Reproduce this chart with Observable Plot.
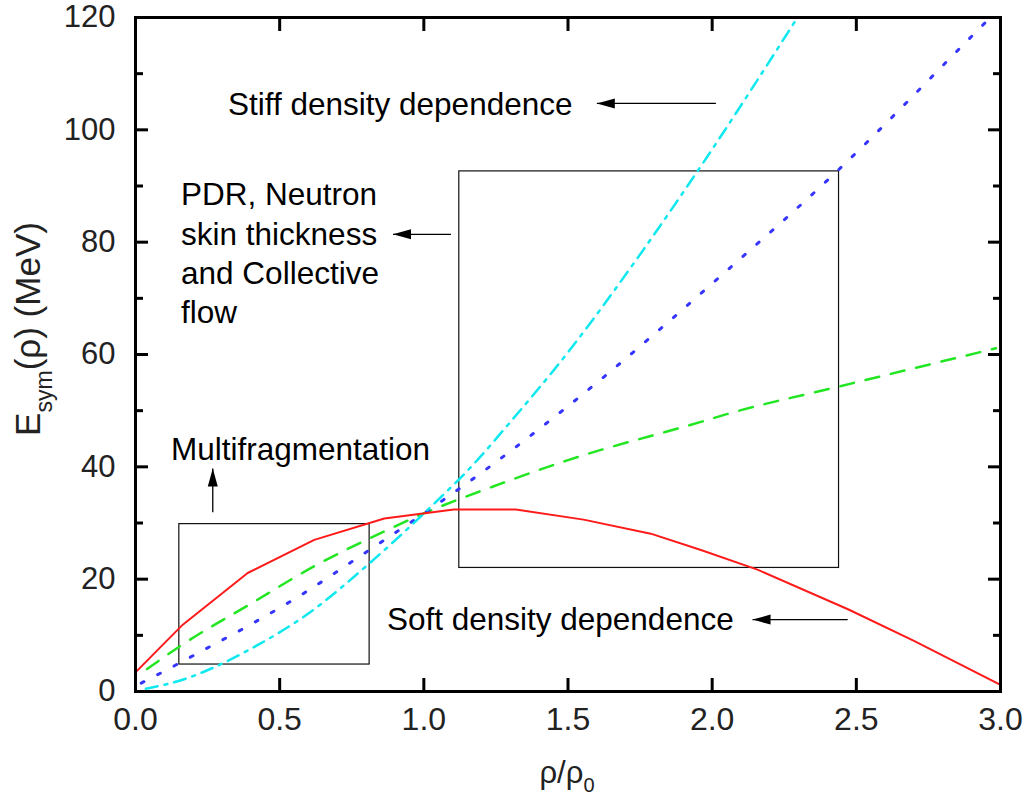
<!DOCTYPE html>
<html><head><meta charset="utf-8">
<script src="https://cdn.jsdelivr.net/npm/d3@7"></script>
<script src="https://cdn.jsdelivr.net/npm/@observablehq/plot@0.6"></script>
<style>
body{margin:0;background:#fff}
#chart svg{font-family:"Liberation Sans",Arial,sans-serif;background:#fff}
</style>
</head><body><div id="chart"></div>
<script>
// ticks
const xTicks = [0, 0.5, 1, 1.5, 2, 2.5, 3];
const yTicks = [0, 20, 40, 60, 80, 100, 120];
const yMinor = [10, 30, 50, 70, 90, 110];

// soft density dependence (red, solid)
const softX = [0, 0.164, 0.389, 0.62, 0.863, 1.104, 1.319, 1.554, 1.787, 1.961, 2.157, 2.473, 2.7, 3.0];
const softY = [3.4, 11.9, 21.1, 27.0, 30.8, 32.4, 32.4, 30.6, 28.1, 25.2, 21.7, 14.6, 9.0, 1.2];
// green dashed
const greenX = [0.04, 0.164, 0.389, 0.62, 0.863, 1.0, 1.267, 1.5, 1.961, 2.059, 2.44, 2.984];
const greenY = [4.0, 8.4, 15.3, 22.3, 28.5, 31.7, 37.0, 41.2, 48.0, 49.5, 54.3, 61.1];
// blue dotted
const blueX = [0.02, 0.071, 0.233, 0.395, 0.562, 0.817, 1.0, 1.204, 1.5, 2.059, 2.418, 2.93, 3.0];
const blueY = [1.5, 2.85, 7.3, 11.8, 16.8, 25.4, 31.7, 39.1, 50.8, 75.3, 91.9, 118.2, 121.8];
// cyan dash-dot (stiff)
const cyanX = [0.036, 0.158, 0.285, 0.389, 0.597, 0.822, 1.0, 1.198, 1.267, 1.5, 1.747, 1.967, 2.296];
const cyanY = [0.5, 2.0, 4.6, 7.3, 13.8, 23.3, 31.7, 41.9, 46.0, 60.4, 77.6, 94.0, 120.0];

// boxes
const boxes = [
  {x1: 0.152, x2: 0.812, y1: 4.8, y2: 29.8},
  {x1: 1.123, x2: 2.44, y1: 22.0, y2: 92.6}
];
// annotations
const notes = [
  {label: "Stiff density dependence", x: 0.321, y: 104.8},
  {label: "PDR, Neutron\nskin thickness\nand Collective\nflow", x: 0.158, y: 78.3},
  {label: "Multifragmentation", x: 0.123, y: 43.5},
  {label: "Soft density dependence", x: 0.872, y: 13.2}
];
const arrows = [
  {x1: 2.013, y1: 104.7, x2: 1.600, y2: 104.7, rot: -90},
  {x1: 1.094, y1: 81.4, x2: 0.893, y2: 81.4, rot: -90},
  {x1: 0.268, y1: 31.9, x2: 0.268, y2: 39.7, rot: 0},
  {x1: 2.47, y1: 12.8, x2: 2.14, y2: 12.8, rot: -90}
];

const pts = (xs, ys) => xs.map((x, i) => ({x, y: ys[i]}));
const headShape = {
  draw(ctx) {
    ctx.moveTo(0, 0);
    ctx.lineTo(-5, 18);
    ctx.lineTo(5, 18);
    ctx.closePath();
  }
};

const chart = Plot.plot({
  width: 1029,
  height: 803,
  marginLeft: 135,
  marginRight: 29,
  marginTop: 17,
  marginBottom: 112,
  style: {fontFamily: "Liberation Sans, Arial, sans-serif", background: "#fff", color: "#000"},
  x: {domain: [0, 3]},
  y: {domain: [0, 120]},
  marks: [
    Plot.rect(boxes, {x1: "x1", x2: "x2", y1: "y1", y2: "y2", fill: "none", stroke: "#111", strokeWidth: 1.2}),
    Plot.line(pts(greenX, greenY), {x: "x", y: "y", curve: "monotone-x", stroke: "#22e622", strokeWidth: 2.5, strokeDasharray: "14,12", clip: true}),
    Plot.line(pts(blueX, blueY), {x: "x", y: "y", curve: "monotone-x", stroke: "#3535ff", strokeWidth: 3, strokeDasharray: "3,15.5", clip: true}),
    Plot.line(pts(cyanX, cyanY), {x: "x", y: "y", curve: "monotone-x", stroke: "#10e8f0", strokeWidth: 2.5, strokeDasharray: "12,7,3,7", clip: true}),
    Plot.line(pts(softX, softY), {x: "x", y: "y", curve: "linear", stroke: "#ff1a1a", strokeWidth: 2, clip: true}),
    Plot.link(arrows, {x1: "x1", y1: "y1", x2: "x2", y2: "y2", stroke: "#000", strokeWidth: 1.3}),
    Plot.vector(arrows, {x: "x2", y: "y2", rotate: "rot", anchor: "start", shape: headShape, fill: "#000", stroke: "none"}),
    Plot.text(notes, {x: "x", y: "y", text: "label", textAnchor: "start", lineAnchor: "middle", lineHeight: 1.25, fontSize: 31.5, fill: "#000"}),
    // ticks (inward)
    Plot.axisX(xTicks, {anchor: "bottom", tickSize: -13, fill: "none", strokeWidth: 3, label: null}),
    Plot.axisX(xTicks, {anchor: "top", tickSize: -13, fill: "none", strokeWidth: 3, label: null}),
    Plot.axisY(yTicks, {anchor: "left", tickSize: -13, fill: "none", strokeWidth: 3, label: null}),
    Plot.axisY(yMinor, {anchor: "left", tickSize: -8, fill: "none", strokeWidth: 3, label: null}),
    Plot.axisY(yTicks, {anchor: "right", tickSize: -13, fill: "none", strokeWidth: 3, label: null}),
    Plot.axisY(yMinor, {anchor: "right", tickSize: -8, fill: "none", strokeWidth: 3, label: null}),
    // tick labels
    Plot.axisX(xTicks, {anchor: "bottom", tickSize: 0, tickPadding: 16, tickFormat: d => d.toFixed(1), fontSize: 32, fill: "#222", label: null}),
    Plot.axisY(yTicks, {anchor: "left", tickSize: 0, tickPadding: 20, tickFormat: d => String(d), fontSize: 31, fill: "#222", label: null}),
    Plot.frame({stroke: "#000", strokeWidth: 3})
  ]
});

document.getElementById("chart").appendChild(chart);

// axis titles with subscripts
const svg = d3.select(chart);
const yl = svg.append("text")
  .attr("transform", "translate(40,329) rotate(-90)")
  .attr("text-anchor", "middle")
  .attr("font-size", 35)
  .attr("fill", "#222");
yl.append("tspan").text("E");
yl.append("tspan").attr("dy", 12).attr("font-size", 23).text("sym");
yl.append("tspan").attr("dy", -12).text("(ρ) (MeV)");

const xl = svg.append("text")
  .attr("x", 567).attr("y", 783)
  .attr("text-anchor", "middle")
  .attr("font-size", 31)
  .attr("fill", "#222");
xl.append("tspan").text("ρ/ρ");
xl.append("tspan").attr("dy", 9).attr("font-size", 20).text("0");
</script>
</body></html>
